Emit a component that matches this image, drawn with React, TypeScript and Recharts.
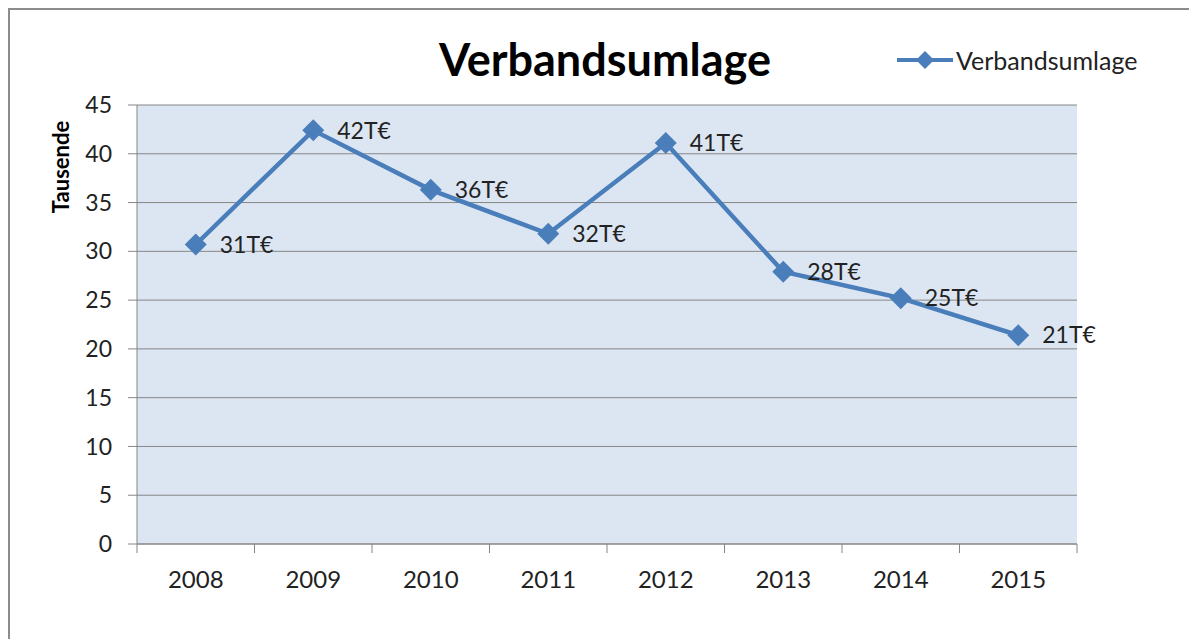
import React from "react";
import { LineChart, Line, XAxis, YAxis, CartesianGrid, LabelList } from "recharts";

const years = ["2008", "2009", "2010", "2011", "2012", "2013", "2014", "2015"];
const umlage = [30.7, 42.4, 36.3, 31.8, 41.1, 27.9, 25.2, 21.4];
const yTicks = [0, 5, 10, 15, 20, 25, 30, 35, 40, 45];

const data = years.map((year, i) => ({ year, umlage: umlage[i] }));

const W = 1185;
const H = 629;
const margin = { top: 95, right: 118, bottom: 55, left: 47 };
const yAxisWidth = 80;
const plotWidth = W - margin.left - margin.right - yAxisWidth;
const band = plotWidth / years.length;

const blue = "#4a7ebb";
const gray = "#868686";
const font = "Lato, 'Open Sans', sans-serif";

const Diamond = (props: any) => {
  const { cx, cy } = props;
  if (cx == null || cy == null) return null;
  const r = 11;
  return <polygon points={`${cx},${cy - r} ${cx + r},${cy} ${cx},${cy + r} ${cx - r},${cy}`} fill={blue} />;
};

const XTick = (props: any) => {
  const { x, y, payload, index } = props;
  const last = index === years.length - 1;
  return (
    <g>
      <line x1={x - band / 2} y1={y} x2={x - band / 2} y2={y + 9} stroke={gray} />
      {last && <line x1={x + band / 2} y1={y} x2={x + band / 2} y2={y + 9} stroke={gray} />}
      <text x={x} y={y + 44} textAnchor="middle" fontSize={24} fill="#222" fontFamily={font}>
        {payload.value}
      </text>
    </g>
  );
};

export default function App() {
  return (
    <div
      style={{
        position: "relative",
        width: 1187,
        height: H,
        overflow: "hidden",
        borderTop: "2px solid #8c8c8c",
        borderLeft: "2px solid #8c8c8c",
        background: "#fff",
      }}
    >
      <div
        style={{
          position: "absolute",
          left: 0,
          width: 1190,
          top: 22,
          textAlign: "center",
          fontFamily: font,
          fontWeight: 700,
          fontSize: 45,
          color: "#000",
        }}
      >
        Verbandsumlage
      </div>
      <div
        style={{
          position: "absolute",
          top: 35,
          left: 887,
          display: "flex",
          alignItems: "center",
          fontFamily: font,
          fontSize: 25,
          color: "#222",
        }}
      >
        <svg width={56} height={20}>
          <line x1={0} y1={10} x2={56} y2={10} stroke={blue} strokeWidth={4} />
          <polygon points="28,1 37,10 28,19 19,10" fill={blue} />
        </svg>
        <span style={{ marginLeft: 3 }}>Verbandsumlage</span>
      </div>
      <LineChart width={W} height={H} data={data} margin={margin}>
        <CartesianGrid vertical={false} stroke={gray} fill="#dce6f2" />
        <XAxis
          dataKey="year"
          stroke={gray}
          tickLine={false}
          tickSize={0}
          tickMargin={0}
          height={40}
          padding={{ left: band / 2, right: band / 2 }}
          tick={<XTick />}
        />
        <YAxis
          domain={[0, 45]}
          ticks={yTicks}
          width={yAxisWidth}
          stroke={gray}
          tickSize={9}
          tickMargin={16}
          tick={{ fill: "#222", fontSize: 23, fontFamily: font }}
          label={{
            content: (p: any) => {
              const vb = p.viewBox;
              const x = vb.x + 12;
              const y = vb.y + 62;
              return (
                <text
                  x={x}
                  y={y}
                  transform={`rotate(-90 ${x} ${y})`}
                  textAnchor="middle"
                  fontSize={22}
                  fontWeight={700}
                  fontFamily={font}
                  fill="#000"
                >
                  Tausende
                </text>
              );
            },
          }}
        />
        <Line
          type="linear"
          dataKey="umlage"
          name="Verbandsumlage"
          stroke={blue}
          strokeWidth={4.5}
          dot={<Diamond />}
          activeDot={false}
          isAnimationActive={false}
        >
          <LabelList
            dataKey="umlage"
            position="right"
            offset={24}
            fontSize={23}
            fontFamily={font}
            fill="#222"
            formatter={(v: any) => `${Math.round(Number(v))}T€`}
          />
        </Line>
      </LineChart>
    </div>
  );
}
